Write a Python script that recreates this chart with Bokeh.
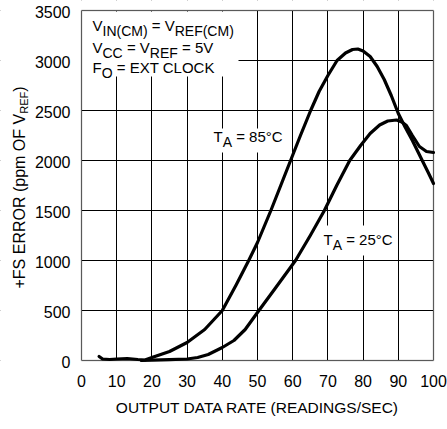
import numpy as np
from bokeh.plotting import figure
from bokeh.models import Range1d, Label, BoxAnnotation, FixedTicker, Grid
from bokeh.embed import file_html
from bokeh.resources import INLINE

# ---- data ----
rate_85 = [5, 6, 8, 10, 13, 16, 18, 20, 25, 30, 35, 40, 44, 47.5, 50, 53.8, 56.6, 59.4,
           62.2, 65.1, 67.5, 70, 72.6, 75, 77, 78.5, 80, 82, 84, 86, 88, 90, 92, 94,
           96.8, 98.5, 100]
err_85 = [40, 15, 10, 15, 20, 10, 5, 30, 90, 180, 310, 500, 760, 1000, 1180, 1500, 1750, 2000,
          2250, 2500, 2690, 2850, 3000, 3075, 3110, 3115, 3095, 3040, 2940, 2810, 2650, 2470, 2330, 2200,
          2000, 1880, 1770]

rate_25 = [17, 20, 25, 30, 33, 36, 40, 43.3, 46.5, 50.4, 55, 60.8, 65, 69, 72.5, 76.2,
           79.3, 82, 84.7, 87, 89.5, 91, 92.3, 94, 96, 98, 100]
err_25 = [0, 3, 8, 15, 30, 60, 130, 200, 310, 500, 720, 1000, 1250, 1500, 1750, 2000,
          2150, 2270, 2355, 2395, 2405, 2385, 2350, 2250, 2140, 2090, 2080]

x_ticks = list(range(0, 101, 10))
y_ticks = list(range(0, 3501, 500))
x_min, x_max = 0, 100
y_min, y_max = 0, 3500

x_title = "OUTPUT DATA RATE (READINGS/SEC)"
y_title = [("+FS ERROR (ppm OF V", False), ("REF", True), (")", False)]
cond_lines = [
    [("V", False), ("IN(CM)", True), (" = V", False), ("REF(CM)", True)],
    [("V", False), ("CC", True), (" = V", False), ("REF", True), (" = 5V", False)],
    [("F", False), ("O", True), (" = EXT CLOCK", False)],
]
label_85 = [("T", False), ("A", True), (" = 85°C", False)]
label_25 = [("T", False), ("A", True), (" = 25°C", False)]

# ---- layout (pixel geometry of the plot area) ----
W, H = 447, 429
FL, FR, FT, FB = 81, 433, 10, 360   # plot-area edges in pixels
LIFT = 6                            # baseline correction (px) for horizontal texts


def X(px):
    return x_min + (px - FL) * (x_max - x_min) / (FR - FL)


def Y(py):
    return y_min + (FB - py) * (y_max - y_min) / (FB - FT)


FONT = "Liberation Sans"
MAIN, SUB = 15, 14
WID = {' ': .278, '=': .584, 'V': .667, 'I': .278, 'N': .722, '(': .333, ')': .333,
       'C': .722, 'M': .833, 'R': .722, 'E': .667, 'F': .611, 'O': .778, 'X': .667,
       'T': .611, 'L': .556, 'K': .667, '5': .556, '8': .556, '2': .556, '°': .4,
       'A': .667, '+': .584, 'S': .667, 'p': .556, 'm': .833}


def tw(s, size):
    return sum(WID.get(c, .6) for c in s) * size


p = figure(width=W, height=H, x_range=Range1d(X(0), X(W)), y_range=Range1d(Y(H), Y(0)),
           x_axis_type=None, y_axis_type=None,
           output_backend="svg", toolbar_location=None, min_border=0)
p.min_border_left = p.min_border_right = p.min_border_top = p.min_border_bottom = 0
p.background_fill_color = "white"
p.border_fill_color = "white"
p.outline_line_color = None

p.add_layout(Grid(dimension=0, ticker=FixedTicker(ticks=x_ticks), grid_line_color="black",
                  grid_line_width=1))
p.add_layout(Grid(dimension=1, ticker=FixedTicker(ticks=y_ticks), grid_line_color="black",
                  grid_line_width=1))

# white masks outside the plot area and behind in-plot texts
masks = [
    (X(0), x_min, Y(H), Y(0)), (x_max, X(W), Y(H), Y(0)),
    (X(0), X(W), Y(H), y_min), (X(0), X(W), y_max, Y(0)),
    (X(81.5), X(238), Y(76), Y(11)),
    (X(210), X(290), Y(152), Y(128)),
    (X(318), X(395), Y(255), Y(225)),
]
for l, r, b, t in masks:
    p.add_layout(BoxAnnotation(left=l, right=r, bottom=b, top=t, fill_color="white",
                               fill_alpha=1, line_color=None, level="underlay"))

# frame
p.add_layout(BoxAnnotation(left=x_min, right=x_max, bottom=y_min, top=y_max, fill_color=None,
                           fill_alpha=0, line_color="black", line_width=1.5))

p.line(rate_85, err_85, line_width=3.2, color="black", line_join="round", line_cap="round")
p.line(rate_25, err_25, line_width=3.2, color="black", line_join="round", line_cap="round")


def txt(x, y, s, size, align="left", angle=0.0):
    p.add_layout(Label(x=x, y=y, text=s, text_font=FONT, text_font_size=f"{size}px",
                       text_color="black", text_align=align, text_baseline="alphabetic",
                       angle=angle))


def row(px, py, pieces, main=MAIN, sub=SUB, drop=5):
    for s, is_sub in pieces:
        size = sub if is_sub else main
        lead = len(s) - len(s.lstrip(' '))
        px += tw(' ' * lead, size)
        s2 = s.strip(' ')
        txt(X(px), Y(py - LIFT + (drop if is_sub else 0)), s2, size)
        px += tw(s2, size)


# tick labels
for t in x_ticks:
    txt(t, Y(385 - LIFT + 1), str(t), 16, align="center")
for t in y_ticks:
    yp = FB - (t - y_min) * (FB - FT) / (y_max - y_min)
    txt(X(70), Y(yp + 6 - LIFT + 1), str(t), 16, align="right")

# axis titles
txt(X((FL + FR) / 2), Y(413 - LIFT), x_title, 15.5, align="center")

A = np.pi / 2
py = 288
for s, is_sub in y_title:
    size = 11 if is_sub else 16
    txt(X(23 if is_sub else 19), Y(py), s, size, angle=A)
    py -= tw(s, size)

# in-plot texts
row(92, 31, cond_lines[0])
row(92, 53, cond_lines[1])
row(92, 73, cond_lines[2])
row(213, 142, label_85)
row(323, 245, label_25)

open("out.html", "w").write(file_html(p, INLINE))
